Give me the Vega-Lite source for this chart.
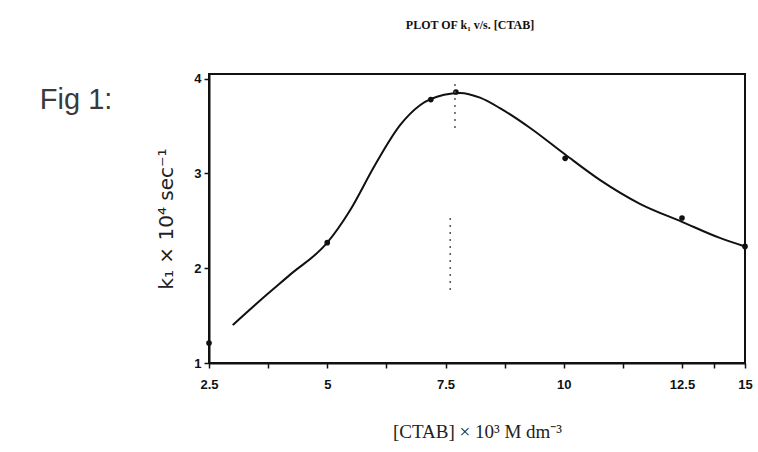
{
  "$schema": "https://vega.github.io/schema/vega-lite/v6.json",
  "width": 536,
  "height": 289,
  "autosize": {"type": "none"},
  "padding": {"left": 209, "top": 74, "right": 13, "bottom": 89},
  "background": "white",
  "title": {
    "text": "PLOT OF k₁ v/s. [CTAB]",
    "font": "Liberation Serif",
    "fontSize": 12,
    "fontWeight": "bold",
    "color": "#111",
    "offset": 41,
    "dx": -7
  },
  "config": {
    "view": {"stroke": "#111", "strokeWidth": 2},
    "axis": {
      "grid": false,
      "domainColor": "#111",
      "domainWidth": 2,
      "tickColor": "#111",
      "tickWidth": 1.5,
      "tickSize": 5,
      "labelFont": "Liberation Sans",
      "labelFontWeight": "bold",
      "labelFontSize": 13,
      "labelColor": "#111",
      "titleColor": "#222",
      "titleFontWeight": "normal",
      "labelFlush": false,
      "labelOverlap": false
    }
  },
  "datasets": {
    "curve": [
      {"x": 3.0, "y": 1.4},
      {"x": 3.58, "y": 1.66},
      {"x": 4.21, "y": 1.93},
      {"x": 5.0, "y": 2.27},
      {"x": 5.48, "y": 2.61},
      {"x": 6.01, "y": 3.09},
      {"x": 6.54, "y": 3.51},
      {"x": 6.96, "y": 3.72},
      {"x": 7.47, "y": 3.83},
      {"x": 7.81, "y": 3.85},
      {"x": 8.23, "y": 3.8},
      {"x": 8.65, "y": 3.69},
      {"x": 9.29, "y": 3.48},
      {"x": 10.03, "y": 3.2},
      {"x": 10.77, "y": 2.93},
      {"x": 11.61, "y": 2.68},
      {"x": 12.5, "y": 2.49},
      {"x": 14.0, "y": 2.32},
      {"x": 15.0, "y": 2.23}
    ],
    "points": [
      {"x": 2.5, "y": 1.21},
      {"x": 5.0, "y": 2.27},
      {"x": 7.19, "y": 3.78},
      {"x": 7.72, "y": 3.86},
      {"x": 10.03, "y": 3.16},
      {"x": 12.5, "y": 2.53},
      {"x": 15.0, "y": 2.23}
    ],
    "noise": [
      {"x": 7.7, "y": 3.48, "y2": 3.97},
      {"x": 7.6, "y": 1.77, "y2": 2.58}
    ],
    "label": [
      {"x": -0.31, "y": 3.78, "text": "Fig 1:"}
    ]
  },
  "encoding": {
    "x": {
      "field": "x",
      "type": "quantitative",
      "scale": {"domain": [2.5, 12.5, 15], "range": [0, 473, 536], "nice": false, "zero": false},
      "axis": {
        "values": [2.5, 3.75, 5, 6.25, 7.5, 8.75, 10, 11.25, 12.5, 13.75, 15],
        "format": ".1~f",
        "labelExpr": "datum.value % 2.5 == 0 ? datum.label : ''",
        "labelPadding": 10,
        "title": "[CTAB] × 10³ M dm⁻³",
        "titleFont": "Liberation Serif",
        "titleFontSize": 19,
        "titlePadding": 31
      }
    },
    "y": {
      "field": "y",
      "type": "quantitative",
      "scale": {"domain": [1, 4.05], "nice": false, "zero": false},
      "axis": {
        "values": [1, 2, 3, 4],
        "format": "d",
        "labelPadding": 3,
        "title": "k₁ × 10⁴ sec⁻¹",
        "titleFont": "DejaVu Sans",
        "titleFontSize": 20,
        "titlePadding": 17
      }
    }
  },
  "layer": [
    {
      "data": {"name": "curve"},
      "mark": {"type": "line", "color": "#111", "strokeWidth": 2, "interpolate": "monotone"}
    },
    {
      "data": {"name": "points"},
      "mark": {"type": "circle", "color": "#111", "size": 32, "opacity": 1}
    },
    {
      "data": {"name": "noise"},
      "mark": {"type": "rule", "color": "#555", "strokeWidth": 1.5, "strokeDash": [2, 5]},
      "encoding": {"y2": {"field": "y2"}}
    },
    {
      "data": {"name": "label"},
      "mark": {"type": "text", "font": "Liberation Sans", "fontSize": 29, "color": "#3a3a3a", "align": "center", "baseline": "middle"},
      "encoding": {"text": {"field": "text"}}
    }
  ]
}
